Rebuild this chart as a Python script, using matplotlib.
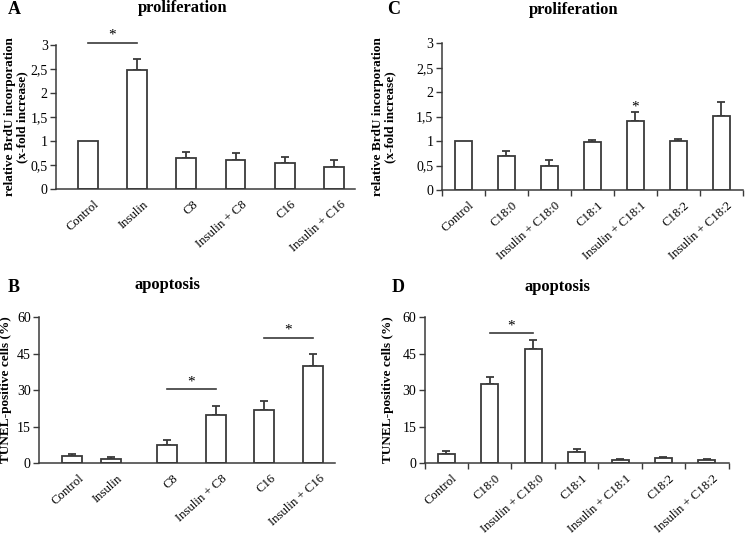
"""Four-panel bar chart: BrdU proliferation and TUNEL apoptosis under fatty acids."""

import matplotlib

matplotlib.use("Agg")

import matplotlib.pyplot as plt
import numpy as np

plt.rcParams["font.family"] = ["Liberation Serif", "DejaVu Serif"]

EDGE = "#3a3a3a"

# panel A: proliferation, medium-chain / palmitate
A_LABELS = ["Control", "Insulin", "C8", "Insulin + C8", "C16", "Insulin + C16"]
A_MEAN = [1.0, 2.47, 0.65, 0.61, 0.54, 0.46]
A_ERR = [0.0, 0.24, 0.12, 0.14, 0.12, 0.15]

# panel B: apoptosis, same treatments
B_LABELS = A_LABELS
B_MEAN = [2.7, 1.8, 7.5, 19.7, 21.9, 40.0]
B_ERR = [0.9, 0.7, 2.0, 3.8, 3.8, 4.9]

# panel C: proliferation, C18 fatty acids
C_LABELS = ["Control", "C18:0", "Insulin + C18:0", "C18:1", "Insulin + C18:1",
            "C18:2", "Insulin + C18:2"]
C_MEAN = [1.0, 0.70, 0.50, 0.98, 1.42, 1.00, 1.51]
C_ERR = [0.0, 0.10, 0.12, 0.04, 0.18, 0.05, 0.28]

# panel D: apoptosis, C18 fatty acids
D_LABELS = C_LABELS
D_MEAN = [3.6, 32.3, 47.0, 4.6, 1.4, 2.2, 1.1]
D_ERR = [1.2, 3.1, 3.5, 1.3, 0.4, 0.4, 0.4]

# significance: (first, second, line height, star height)
A_SIG = [(0, 1, 3.03, 3.2)]
B_SIG = [(2, 3, 30.3, 33.3), (4, 5, 51.6, 54.8)]
C_SIG = [(4, 4, None, 1.70)]
D_SIG = [(1, 2, 53.6, 56.3)]


def draw_panel(ax, labels, mean, err, pos, width, ylim, yticks, ytick_labels,
               ylabel, label_x, xticks_between, sig):
    pos = np.asarray(pos, dtype=float)
    ax.bar(pos, mean, width=width, color="white", edgecolor=EDGE, linewidth=1.3, zorder=2)
    lower = np.zeros(len(err))
    has_err = np.asarray(err) > 0
    ax.errorbar(pos[has_err], np.asarray(mean)[has_err],
                yerr=[lower[has_err], np.asarray(err)[has_err]],
                fmt="none", ecolor=EDGE, elinewidth=1.3, capsize=3, capthick=1.3, zorder=1)

    ax.set_ylim(*ylim)
    ax.set_yticks(yticks)
    ax.set_yticklabels(ytick_labels)
    ax.set_ylabel(ylabel, fontsize=9.5, fontweight="bold", linespacing=1.05)
    ax.yaxis.set_label_coords(label_x, 0.5)

    for side in ("top", "right"):
        ax.spines[side].set_visible(False)
    for side in ("left", "bottom"):
        ax.spines[side].set_color(EDGE)
        ax.spines[side].set_linewidth(1.1)
    ax.tick_params(axis="y", direction="out", length=4, width=1.0, color=EDGE,
                   labelsize=10, pad=2)

    if xticks_between:
        n = len(labels)
        ax.set_xlim(-0.5, n - 0.5)
        ax.set_xticks(np.arange(-0.5, n, 1.0))
        ax.set_xticklabels([])
        ax.tick_params(axis="x", direction="out", length=4, width=1.0, color=EDGE)
    else:
        ax.set_xticks([])
    for p, lab in zip(pos, labels):
        ax.text(p + 0.12, -0.065, lab, transform=ax.get_xaxis_transform(),
                rotation=42, ha="right", va="top", rotation_mode="anchor", fontsize=9.2)

    for i, j, line_y, star_y in sig:
        if line_y is not None:
            ax.plot([pos[i], pos[j]], [line_y, line_y], color=EDGE, lw=1.2, clip_on=False)
        ax.text((pos[i] + pos[j]) / 2, star_y, "*", ha="center", va="center",
                fontsize=11, clip_on=False)


def main():
    fig = plt.figure(figsize=(7.45, 5.34), dpi=100)

    prolif_ticks = [0, 0.5, 1, 1.5, 2, 2.5, 3]
    prolif_labels = ["0", "0,5", "1", "1,5", "2", "2,5", "3"]
    apo_ticks = [0, 15, 30, 45, 60]
    apo_labels = ["0", "15", "30", "45", "60"]
    prolif_ylabel = "relative BrdU incorporation\n(x-fold increase)"
    apo_ylabel = "TUNEL-positive cells (%)"

    ax_a = fig.add_axes([0.0752, 0.646, 0.401, 0.270])
    draw_panel(ax_a, A_LABELS, A_MEAN, A_ERR, np.arange(6), 0.40, (0, 3),
               prolif_ticks, prolif_labels, prolif_ylabel, -0.092, False, A_SIG)
    ax_a.set_xlim(-0.645, 5.42)

    ax_b = fig.add_axes([0.0523, 0.133, 0.397, 0.273])
    draw_panel(ax_b, B_LABELS, B_MEAN, B_ERR, [0, 0.8, 1.95, 2.95, 3.95, 4.95], 0.41,
               (0, 60), apo_ticks, apo_labels, apo_ylabel, -0.091, False, B_SIG)
    ax_b.set_xlim(-0.68, 5.4)

    ax_c = fig.add_axes([0.593, 0.644, 0.404, 0.275])
    draw_panel(ax_c, C_LABELS, C_MEAN, C_ERR, np.arange(7), 0.40, (0, 3),
               prolif_ticks, prolif_labels, prolif_ylabel, -0.15, True, C_SIG)

    ax_d = fig.add_axes([0.570, 0.133, 0.408, 0.273])
    draw_panel(ax_d, D_LABELS, D_MEAN, D_ERR, np.arange(7), 0.39, (0, 60),
               apo_ticks, apo_labels, apo_ylabel, -0.10, True, D_SIG)

    for x, y, letter in [(8, 10, "A"), (387, 10, "C"), (8, 288, "B"), (392, 288, "D")]:
        fig.text(x / 745, 1 - y / 534, letter, fontsize=13, fontweight="bold",
                 ha="left", va="center")
    for x, y, title in [(183, 8, "proliferation"), (574, 10, "proliferation"),
                        (167, 285, "apoptosis"), (557, 287, "apoptosis")]:
        fig.text(x / 745, 1 - y / 534, title, fontsize=12, fontweight="bold",
                 ha="center", va="center")

    fig.savefig("out.png", dpi=100)
    plt.close(fig)


if __name__ == "__main__":
    main()
